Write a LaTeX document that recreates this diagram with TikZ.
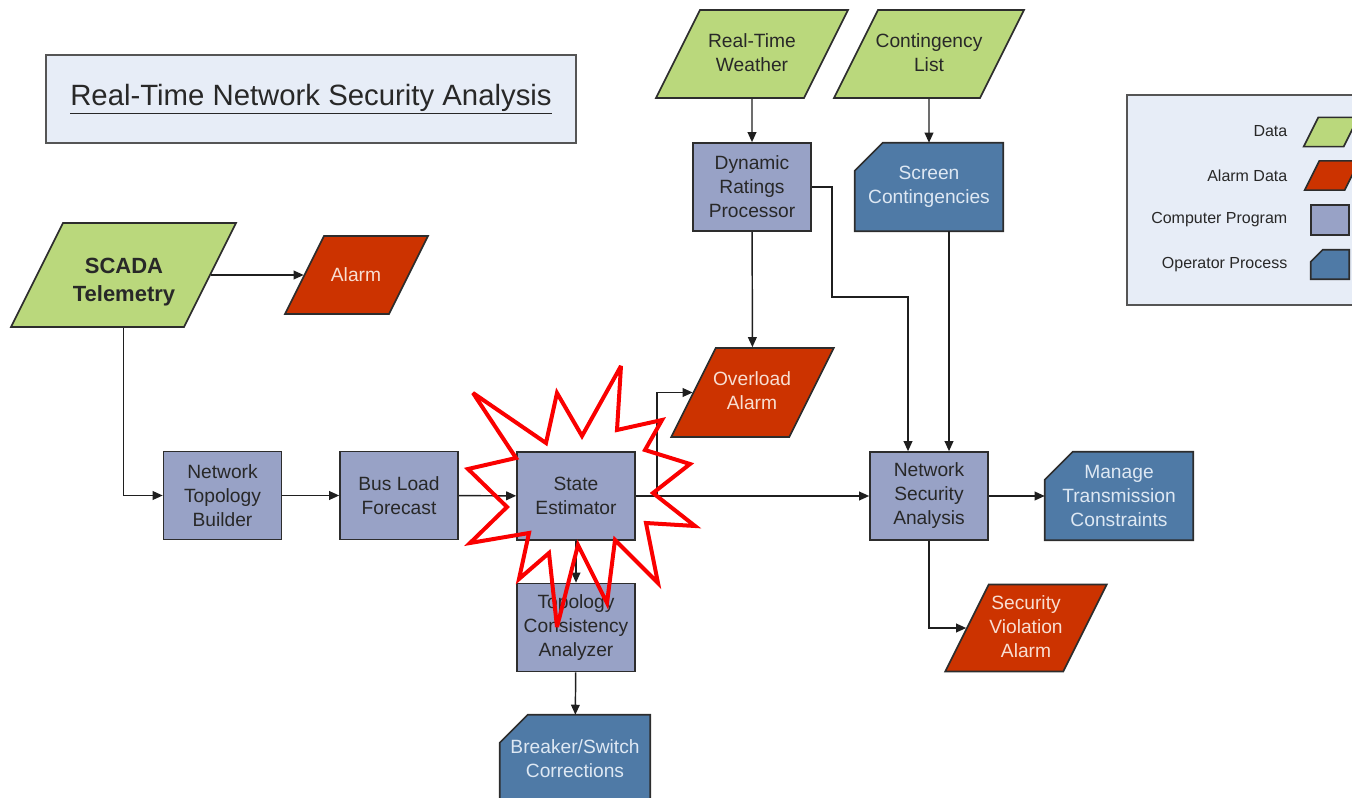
\documentclass[tikz,border=0pt]{standalone}
\usepackage{fontspec}
\setmainfont{Liberation Sans}
\usetikzlibrary{arrows.meta,calc,backgrounds}
\definecolor{datafill}{RGB}{186,216,124}
\definecolor{alarmfill}{RGB}{204,51,0}
\definecolor{progfill}{RGB}{152,162,198}
\definecolor{opfill}{RGB}{79,122,166}
\definecolor{bordc}{RGB}{45,45,45}
\definecolor{panelfill}{RGB}{231,237,247}
\definecolor{panelbord}{RGB}{85,85,85}
\definecolor{alarmtext}{RGB}{248,222,210}
\definecolor{optext}{RGB}{222,232,243}
\definecolor{darktext}{RGB}{40,40,40}
\definecolor{starred}{RGB}{250,0,0}
\begin{document}
\begin{tikzpicture}[x=0.75pt,y=-0.75pt,
  every node/.style={font=\fontsize{14.4}{18}\selectfont, align=center, text=darktext},
  box/.style={draw=bordc, line width=1.2pt, inner sep=0pt},
  prog/.style={box, fill=progfill, minimum width=88.5pt, minimum height=66pt},
  opbox/.style={inner sep=0pt, minimum height=66pt, text=optext},
  opshape/.style={draw=bordc, line width=1.2pt, fill=opfill},
  para/.style={box, xslant=0.5, minimum height=66pt},
  datap/.style={para, fill=datafill},
  alarmp/.style={para, fill=alarmfill},
  atext/.style={text=alarmtext},
  lgtext/.style={font=\fontsize{12}{14}\selectfont, anchor=east, text=darktext},
  arr/.style={draw=black!88, line width=1.1pt, -{Triangle[length=7.5pt,width=6.5pt]}},
  panel/.style={draw=panelbord, line width=1.2pt, fill=panelfill, inner sep=0pt},
]
\useasboundingbox (0,0) rectangle (1352,798);

% title
\node[panel, minimum width=397.5pt, minimum height=66pt,
      font=\fontsize{22}{26}\selectfont] (title) at (311,99)
      {\underline{Real-Time Network Security Analysis}};

% legend
\node[panel, minimum width=192pt, minimum height=157.5pt] (legend) at (1255,200) {};
\node[lgtext] (lgdatat) at (1292,131) {Data};
\node[lgtext] (lgalarmt) at (1292,176) {Alarm Data};
\node[lgtext] (lgprogt) at (1292,220) {Computer Program};
\node[lgtext] (lgopt) at (1292,265) {Operator Process};
\node[datap, minimum width=30pt, minimum height=22pt] (lgdata) at (1331,132) {};
\node[alarmp, minimum width=30pt, minimum height=22pt] (lgalarm) at (1332,175.5) {};
\node[prog, minimum width=28.5pt, minimum height=22.5pt] (lgprog) at (1330,220) {};
\node[opbox, minimum width=28.5pt, minimum height=21.75pt] (lgop) at (1330,264.5) {};
\filldraw[opshape] (lgop.south west) -- (lgop.south east) -- (lgop.north east)
  -- ([xshift=9pt]lgop.north west) -- ([yshift=-9pt]lgop.north west) -- cycle;

% data nodes
\node[datap, minimum width=129.75pt, minimum height=78pt] (scada) at (123.5,275) {};
\node[font=\fontsize{16.5}{21}\selectfont\bfseries] (scadat) at (124,282) {SCADA\\Telemetry};
\node[alarmp, minimum width=78pt, minimum height=58.5pt] (alarm) at (356.5,275) {};
\node[atext] (alarmt) at (356,275) {Alarm};
\node[datap, minimum width=111pt] (rtw) at (752,54) {};
\node (rtwt) at (752,53) {Real-Time\\Weather};
\node[datap, minimum width=109.5pt] (cl) at (929,54) {};
\node (clt) at (929,53) {Contingency\\List};
\node[alarmp, minimum width=88.5pt, minimum height=66.75pt] (ol) at (752.5,392.5) {};
\node[atext] (olt) at (752,391) {Overload\\Alarm};
\node[alarmp, minimum width=88.5pt, minimum height=65.25pt] (sva) at (1026,628) {};
\node[atext] (svat) at (1026,627) {Security\\Violation\\Alarm};

% programs
\node[prog] (ntb) at (222.5,495.5) {Network\\Topology\\Builder};
\node[prog] (blf) at (399,495.5) {Bus Load\\Forecast};
\node[prog] (se) at (576,496) {State\\Estimator};
\node[prog] (tca) at (576,627.5) {Topology\\Consistency\\Analyzer};
\node[prog] (drp) at (752,187) {Dynamic\\Ratings\\Processor};
\node[prog] (nsa) at (929,496) {Network\\Security\\Analysis};

% operator processes
\node[opbox, minimum width=111pt] (sc) at (929,187) {Screen\\Contingencies};
\node[opbox, minimum width=111pt] (mtc) at (1119,496) {Manage\\Transmission\\Constraints};
\node[opbox, minimum width=112.5pt] (bsc) at (575,759) {Breaker/Switch\\Corrections};
\begin{pgfonlayer}{background}
\foreach \n in {sc,mtc,bsc}{
  \filldraw[opshape] (\n.south west) -- (\n.south east) -- (\n.north east)
    -- ([xshift=21pt]\n.north west) -- ([yshift=-21pt]\n.north west) -- cycle;
}
\end{pgfonlayer}

% connectors
\draw[arr] (scada) -- (alarm);
\draw[arr] (scada.center |- scada.south) |- (ntb);
\draw[arr] (ntb) -- (blf);
\draw[arr] (blf) -- (se);
\draw[arr] (se) -- (nsa);
\coordinate (br) at (657,496);
\draw[arr] (br) |- (ol);
\draw[arr] (se) -- (tca);
\draw[arr] (tca) -- (bsc);
\draw[arr] (rtw) -- (drp);
\draw[arr] (cl) -- (sc);
\draw[arr] (drp) -- (ol);
\coordinate (k1) at (832,297);
\draw[arr] (drp.east) -| (k1) -| ($(nsa.north)+(-21,0)$);
\draw[arr] ($(sc.south)+(20,0)$) -- ($(nsa.north)+(20,0)$);
\draw[arr] (nsa) -- (mtc);
\draw[arr] (nsa.south) |- (sva);

% star
\draw[starred, line width=3pt, line join=miter, miter limit=4]
  (621,366) -- (617,430) -- (662,420) -- (645,450) -- (690,464) -- (653,493)
  -- (695,526) -- (646,523) -- (658,583) -- (615,540) -- (607,603) -- (578,545)
  -- (557,627) -- (549,553) -- (519,579) -- (529,533) -- (470,543) -- (507,507)
  -- (468,469) -- (516,458) -- (473,393) -- (546,443) -- (557,393) -- (582,436)
  -- cycle;
\end{tikzpicture}
\end{document}
